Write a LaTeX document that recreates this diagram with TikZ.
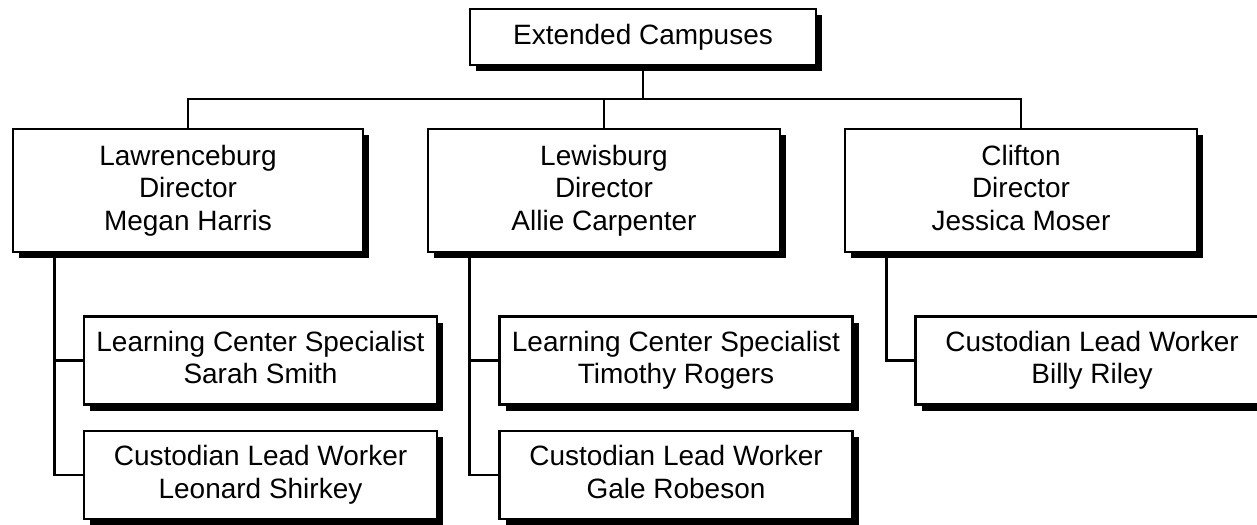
\documentclass[tikz,border=0pt]{standalone}
\usepackage{fontspec}
\setmainfont{Liberation Sans}
\usetikzlibrary{shadows}

\begin{document}
\begin{tikzpicture}[
  font=\fontsize{19.9}{23.2}\selectfont,
  unit/.style={draw=black, line width=1.8pt, fill=white, align=center, inner sep=0pt,
    text depth=0.15cm, minimum width=8.8cm, minimum height=3.075cm,
    drop shadow={shadow xshift=0.16cm, shadow yshift=-0.16cm, fill=black, opacity=1}},
  staff/.style={unit, minimum width=8.825cm, minimum height=2.2cm},
  link/.style={black, line width=1.8pt}
]
\useasboundingbox (0,0) rectangle (31.425,13.1);
\clip (0,0) rectangle (31.425,13.1);

\node [unit, minimum width=8.65cm, minimum height=1.4cm] (ext) at (16.075,12.175) {Extended Campuses};
\node [unit, minimum width=8.75cm] (law) at (4.7,8.3375) {Lawrenceburg\\Director\\Megan Harris};
\node [unit] (lew) at (15.1,8.3375) {Lewisburg\\Director\\Allie Carpenter};
\node [unit] (cli) at (25.525,8.3375) {Clifton\\Director\\Jessica Moser};

\node [staff] (lawlcs) at (6.5125,4.0875) {Learning Center Specialist\\Sarah Smith};
\node [staff] (lawclw) at (6.5125,1.225) {Custodian Lead Worker\\Leonard Shirkey};
\node [staff] (lewlcs) at (16.9,4.0875) {Learning Center Specialist\\Timothy Rogers};
\node [staff] (lewclw) at (16.9,1.225) {Custodian Lead Worker\\Gale Robeson};
\node [staff] (cliclw) at (27.3,4.0875) {Custodian Lead Worker\\Billy Riley};

\coordinate (bus) at (16.075,10.625);
\draw [link] (ext.south) -- (bus);
\draw [link] (law.north) |- (bus) -| (cli.north);
\draw [link] (lew.north) -- (lew.north |- bus);

\draw [link] ([xshift=1.075cm]law.south west) |- (lawlcs.west);
\draw [link] ([xshift=1.075cm]law.south west) |- (lawclw.west);
\draw [link] ([xshift=1.075cm]lew.south west) |- (lewlcs.west);
\draw [link] ([xshift=1.075cm]lew.south west) |- (lewclw.west);
\draw [link] ([xshift=1.075cm]cli.south west) |- (cliclw.west);
\end{tikzpicture}
\end{document}
